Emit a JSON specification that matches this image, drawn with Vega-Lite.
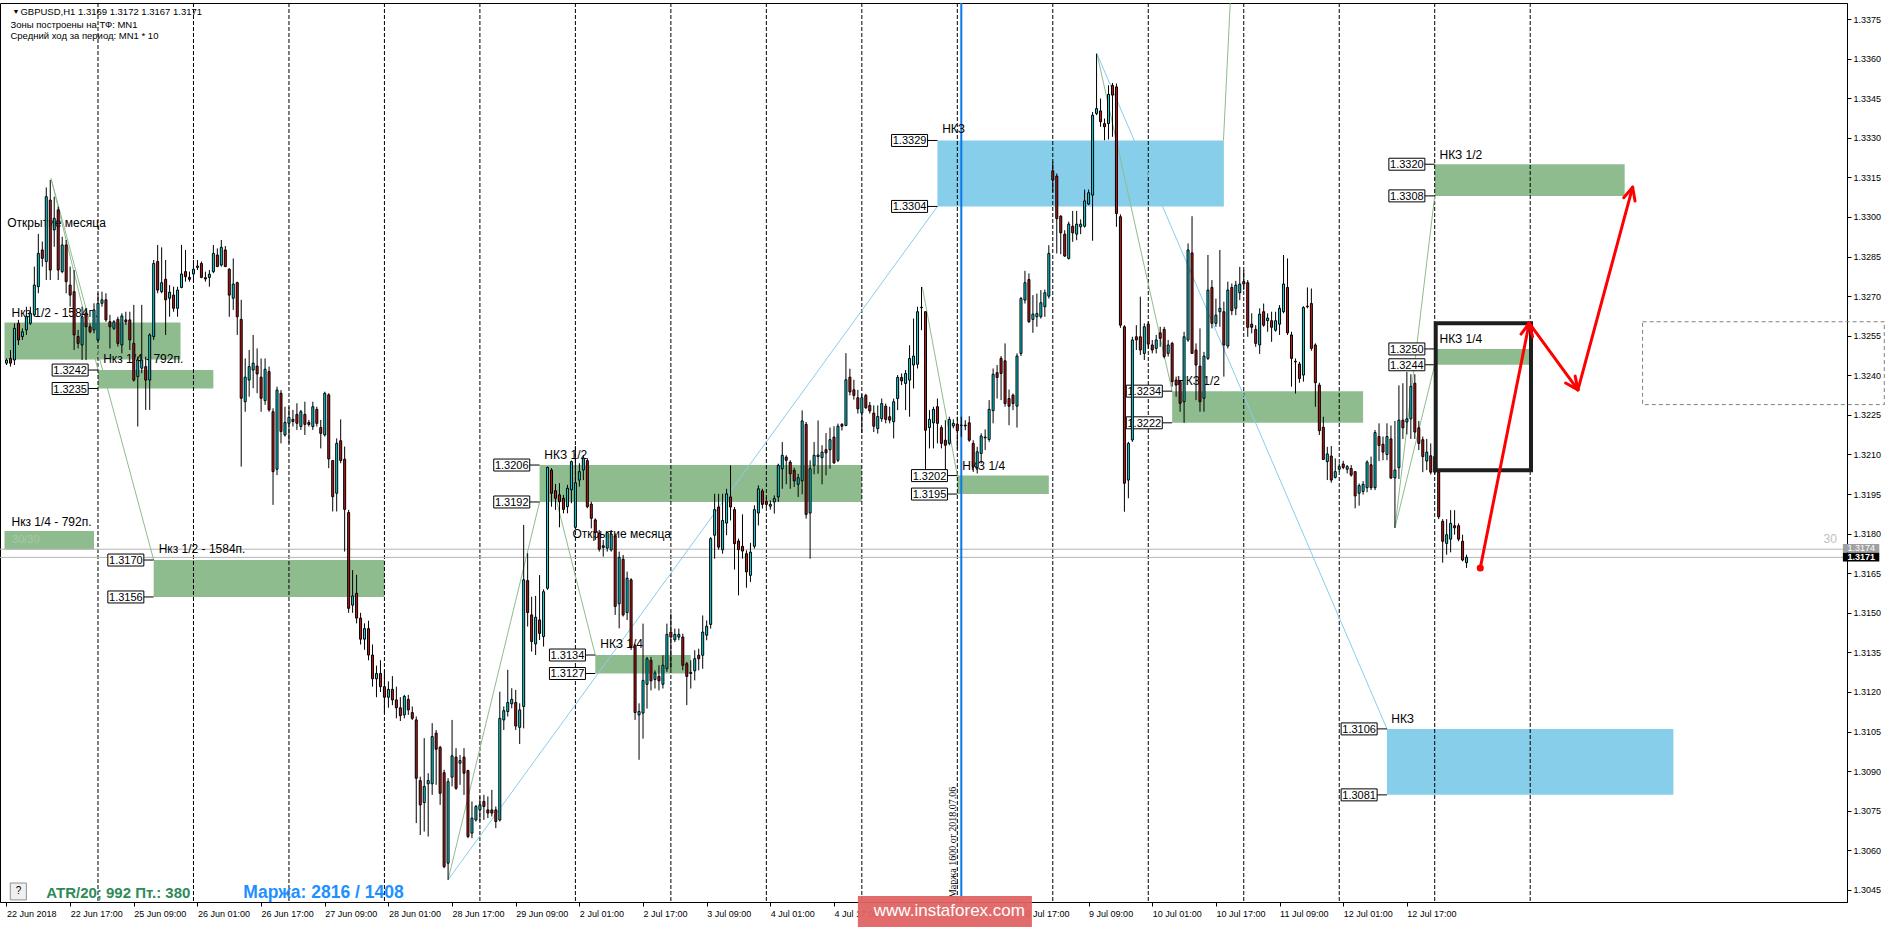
{
"$schema":"https://vega.github.io/schema/vega-lite/v6.json",
"width":1847,"height":899,
"autosize":{"type":"none"},
"padding":{"left":0,"top":3,"right":41,"bottom":26},
"background":"#FFFFFF",
"config":{"view":{"stroke":"#000000","strokeWidth":1},"text":{"font":"Liberation Sans"},"axis":{"labelFont":"Liberation Sans","title":null,"grid":false}},
"datasets":{
"candles":[
{"i":1,"o":1.32446,"h":1.32464,"l":1.32439,"c":1.32458},
{"i":2,"o":1.32464,"h":1.32496,"l":1.32433,"c":1.32446},
{"i":3,"o":1.32458,"h":1.32597,"l":1.32439,"c":1.32578},
{"i":4,"o":1.32597,"h":1.3261,"l":1.32515,"c":1.32534},
{"i":5,"o":1.32547,"h":1.32578,"l":1.32534,"c":1.32565},
{"i":6,"o":1.32572,"h":1.3266,"l":1.32553,"c":1.32622},
{"i":7,"o":1.32597,"h":1.3266,"l":1.32591,"c":1.32635},
{"i":8,"o":1.32629,"h":1.32812,"l":1.32622,"c":1.32742},
{"i":9,"o":1.32736,"h":1.32936,"l":1.32711,"c":1.32862},
{"i":10,"o":1.32875,"h":1.32907,"l":1.32812,"c":1.32843},
{"i":11,"o":1.32831,"h":1.33112,"l":1.32761,"c":1.33077},
{"i":12,"o":1.33064,"h":1.3314,"l":1.32761,"c":1.32799},
{"i":13,"o":1.32951,"h":1.33077,"l":1.32887,"c":1.32995},
{"i":14,"o":1.33027,"h":1.33039,"l":1.32761,"c":1.32799},
{"i":15,"o":1.32793,"h":1.32925,"l":1.32787,"c":1.32894},
{"i":16,"o":1.32894,"h":1.32913,"l":1.32711,"c":1.32755},
{"i":17,"o":1.32742,"h":1.32812,"l":1.3266,"c":1.32704},
{"i":18,"o":1.32717,"h":1.32799,"l":1.32496,"c":1.32553},
{"i":19,"o":1.32547,"h":1.32572,"l":1.32502,"c":1.32521},
{"i":20,"o":1.32515,"h":1.3266,"l":1.32458,"c":1.32622},
{"i":21,"o":1.32635,"h":1.32648,"l":1.32458,"c":1.32584},
{"i":22,"o":1.32584,"h":1.32597,"l":1.32559,"c":1.32565},
{"i":23,"o":1.32572,"h":1.32673,"l":1.32559,"c":1.32648},
{"i":24,"o":1.32534,"h":1.32711,"l":1.32528,"c":1.32673},
{"i":25,"o":1.32673,"h":1.32717,"l":1.3266,"c":1.32686},
{"i":26,"o":1.32686,"h":1.32711,"l":1.32603,"c":1.3261},
{"i":27,"o":1.32603,"h":1.32629,"l":1.32502,"c":1.32584},
{"i":28,"o":1.32578,"h":1.32609,"l":1.32572,"c":1.32603},
{"i":29,"o":1.32612,"h":1.32622,"l":1.32509,"c":1.32521},
{"i":30,"o":1.32515,"h":1.32635,"l":1.32483,"c":1.32625},
{"i":31,"o":1.3261,"h":1.32641,"l":1.32591,"c":1.32603},
{"i":32,"o":1.3261,"h":1.32641,"l":1.32496,"c":1.32534},
{"i":33,"o":1.32521,"h":1.32667,"l":1.32376,"c":1.32382},
{"i":34,"o":1.32395,"h":1.32471,"l":1.32206,"c":1.32458},
{"i":35,"o":1.32427,"h":1.32667,"l":1.32408,"c":1.32458},
{"i":36,"o":1.32433,"h":1.32471,"l":1.32269,"c":1.32382},
{"i":37,"o":1.32382,"h":1.32559,"l":1.32269,"c":1.32553},
{"i":38,"o":1.32547,"h":1.32837,"l":1.32534,"c":1.32824},
{"i":39,"o":1.32831,"h":1.32894,"l":1.32711,"c":1.32723},
{"i":40,"o":1.32717,"h":1.32885,"l":1.32711,"c":1.32751},
{"i":41,"o":1.32764,"h":1.32837,"l":1.32553,"c":1.32686},
{"i":42,"o":1.32692,"h":1.32742,"l":1.32622,"c":1.32715},
{"i":43,"o":1.32704,"h":1.32736,"l":1.32641,"c":1.32654},
{"i":44,"o":1.32654,"h":1.32736,"l":1.32622,"c":1.32723},
{"i":45,"o":1.32733,"h":1.32894,"l":1.3273,"c":1.32784},
{"i":46,"o":1.32793,"h":1.32875,"l":1.32755,"c":1.32774},
{"i":47,"o":1.32771,"h":1.32793,"l":1.32755,"c":1.32764},
{"i":48,"o":1.32784,"h":1.32837,"l":1.32755,"c":1.32802},
{"i":49,"o":1.32809,"h":1.32837,"l":1.32799,"c":1.32814},
{"i":50,"o":1.32824,"h":1.32831,"l":1.32768,"c":1.32771},
{"i":51,"o":1.3277,"h":1.32793,"l":1.32755,"c":1.32765},
{"i":52,"o":1.32771,"h":1.32799,"l":1.32736,"c":1.32783},
{"i":53,"o":1.32793,"h":1.32894,"l":1.32787,"c":1.32862},
{"i":54,"o":1.32856,"h":1.32881,"l":1.32812,"c":1.32812},
{"i":55,"o":1.32818,"h":1.32913,"l":1.32812,"c":1.32885},
{"i":56,"o":1.32875,"h":1.3289,"l":1.32812,"c":1.32812},
{"i":57,"o":1.32802,"h":1.32806,"l":1.32622,"c":1.32704},
{"i":58,"o":1.32692,"h":1.32843,"l":1.32648,"c":1.32746},
{"i":59,"o":1.32751,"h":1.32755,"l":1.32553,"c":1.32622},
{"i":60,"o":1.32612,"h":1.32686,"l":1.32054,"c":1.32313},
{"i":61,"o":1.323,"h":1.32464,"l":1.32262,"c":1.32393},
{"i":62,"o":1.32382,"h":1.32496,"l":1.32319,"c":1.32433},
{"i":63,"o":1.3242,"h":1.32553,"l":1.32351,"c":1.32446},
{"i":64,"o":1.32435,"h":1.32502,"l":1.32332,"c":1.32405},
{"i":65,"o":1.32393,"h":1.32464,"l":1.32262,"c":1.32313},
{"i":66,"o":1.32304,"h":1.32464,"l":1.32288,"c":1.32423},
{"i":67,"o":1.32414,"h":1.32433,"l":1.32262,"c":1.32269},
{"i":68,"o":1.32262,"h":1.32275,"l":1.31909,"c":1.32035},
{"i":69,"o":1.32044,"h":1.32357,"l":1.32022,"c":1.32344},
{"i":70,"o":1.32332,"h":1.32344,"l":1.32142,"c":1.32187},
{"i":71,"o":1.32174,"h":1.32281,"l":1.32168,"c":1.32221},
{"i":72,"o":1.32218,"h":1.32281,"l":1.32142,"c":1.32241},
{"i":73,"o":1.32233,"h":1.32269,"l":1.32206,"c":1.32225},
{"i":74,"o":1.32252,"h":1.32294,"l":1.32193,"c":1.32218},
{"i":75,"o":1.32206,"h":1.32269,"l":1.32193,"c":1.32262},
{"i":76,"o":1.32252,"h":1.323,"l":1.32174,"c":1.32214},
{"i":77,"o":1.32221,"h":1.32231,"l":1.32206,"c":1.32214},
{"i":78,"o":1.32206,"h":1.323,"l":1.32193,"c":1.32281},
{"i":79,"o":1.32271,"h":1.32281,"l":1.32206,"c":1.32218},
{"i":80,"o":1.32202,"h":1.32231,"l":1.32123,"c":1.3218},
{"i":81,"o":1.32174,"h":1.32338,"l":1.32168,"c":1.32332},
{"i":82,"o":1.32326,"h":1.32332,"l":1.32048,"c":1.32083},
{"i":83,"o":1.32077,"h":1.32079,"l":1.31884,"c":1.3194},
{"i":84,"o":1.31953,"h":1.32161,"l":1.31884,"c":1.32142},
{"i":85,"o":1.32152,"h":1.32233,"l":1.32067,"c":1.32077},
{"i":86,"o":1.32082,"h":1.3213,"l":1.31732,"c":1.31892},
{"i":87,"o":1.3188,"h":1.3189,"l":1.315,"c":1.31517},
{"i":88,"o":1.31529,"h":1.31662,"l":1.315,"c":1.31564},
{"i":89,"o":1.31574,"h":1.31644,"l":1.3146,"c":1.3148},
{"i":90,"o":1.3148,"h":1.315,"l":1.3138,"c":1.314},
{"i":91,"o":1.314,"h":1.3146,"l":1.3136,"c":1.3144},
{"i":92,"o":1.3144,"h":1.3147,"l":1.3132,"c":1.3134},
{"i":93,"o":1.3134,"h":1.3138,"l":1.3122,"c":1.3125},
{"i":94,"o":1.3125,"h":1.313,"l":1.3118,"c":1.3127},
{"i":95,"o":1.3127,"h":1.3132,"l":1.312,"c":1.3122},
{"i":96,"o":1.3122,"h":1.3128,"l":1.3112,"c":1.3118},
{"i":97,"o":1.3118,"h":1.3124,"l":1.3114,"c":1.3121},
{"i":98,"o":1.3121,"h":1.3126,"l":1.3115,"c":1.3117},
{"i":99,"o":1.3117,"h":1.3122,"l":1.311,"c":1.3114},
{"i":100,"o":1.3114,"h":1.3118,"l":1.3109,"c":1.3111},
{"i":101,"o":1.31113,"h":1.31189,"l":1.311,"c":1.31183},
{"i":102,"o":1.31172,"h":1.31189,"l":1.31113,"c":1.31132},
{"i":103,"o":1.31122,"h":1.31145,"l":1.31094,"c":1.311},
{"i":104,"o":1.31094,"h":1.31107,"l":1.30703,"c":1.30873},
{"i":105,"o":1.30864,"h":1.30879,"l":1.30658,"c":1.30772},
{"i":106,"o":1.30781,"h":1.31025,"l":1.30671,"c":1.30842},
{"i":107,"o":1.30852,"h":1.30892,"l":1.30652,"c":1.30864},
{"i":108,"o":1.30852,"h":1.31082,"l":1.3081,"c":1.31031},
{"i":109,"o":1.31044,"h":1.31056,"l":1.30848,"c":1.30983},
{"i":110,"o":1.3099,"h":1.30996,"l":1.30772,"c":1.30816},
{"i":111,"o":1.30894,"h":1.30905,"l":1.30532,"c":1.30538},
{"i":112,"o":1.30551,"h":1.30873,"l":1.30488,"c":1.3086},
{"i":113,"o":1.30877,"h":1.31094,"l":1.30842,"c":1.30958},
{"i":114,"o":1.30953,"h":1.30987,"l":1.30829,"c":1.30835},
{"i":115,"o":1.3093,"h":1.30961,"l":1.30848,"c":1.3094},
{"i":116,"o":1.30953,"h":1.30987,"l":1.3081,"c":1.30892},
{"i":117,"o":1.30902,"h":1.30905,"l":1.30646,"c":1.30652},
{"i":118,"o":1.30665,"h":1.30785,"l":1.30646,"c":1.30722},
{"i":119,"o":1.30715,"h":1.30772,"l":1.30709,"c":1.30766},
{"i":120,"o":1.30753,"h":1.30804,"l":1.30709,"c":1.30772},
{"i":121,"o":1.30785,"h":1.3081,"l":1.30715,"c":1.30766},
{"i":122,"o":1.30753,"h":1.30804,"l":1.30722,"c":1.30741},
{"i":123,"o":1.30753,"h":1.30829,"l":1.30728,"c":1.30741},
{"i":124,"o":1.30753,"h":1.30766,"l":1.30684,"c":1.30709},
{"i":125,"o":1.30715,"h":1.31201,"l":1.30709,"c":1.311},
{"i":126,"o":1.31094,"h":1.31145,"l":1.31056,"c":1.31129},
{"i":127,"o":1.31126,"h":1.31284,"l":1.31107,"c":1.3116},
{"i":128,"o":1.31155,"h":1.31214,"l":1.31138,"c":1.31172},
{"i":129,"o":1.3116,"h":1.31208,"l":1.31056,"c":1.31071},
{"i":130,"o":1.31066,"h":1.31157,"l":1.31003,"c":1.31132},
{"i":131,"o":1.31145,"h":1.31833,"l":1.31062,"c":1.31625},
{"i":132,"o":1.31622,"h":1.31726,"l":1.31448,"c":1.31501},
{"i":133,"o":1.31492,"h":1.31561,"l":1.31353,"c":1.31391},
{"i":134,"o":1.31382,"h":1.31564,"l":1.3134,"c":1.31483},
{"i":135,"o":1.31473,"h":1.31643,"l":1.31397,"c":1.31422},
{"i":136,"o":1.3141,"h":1.31589,"l":1.31372,"c":1.3158},
{"i":137,"o":1.31593,"h":1.32054,"l":1.31587,"c":1.32051},
{"i":138,"o":1.32041,"h":1.32048,"l":1.31902,"c":1.31953},
{"i":139,"o":1.31963,"h":1.31988,"l":1.3189,"c":1.31934},
{"i":140,"o":1.31947,"h":1.31991,"l":1.31824,"c":1.31921},
{"i":141,"o":1.31934,"h":1.31947,"l":1.31877,"c":1.31892},
{"i":142,"o":1.31902,"h":1.31985,"l":1.31877,"c":1.31972},
{"i":143,"o":1.31966,"h":1.32077,"l":1.31915,"c":1.32073},
{"i":144,"o":1.31824,"h":1.32132,"l":1.3182,"c":1.31993},
{"i":145,"o":1.32003,"h":1.32067,"l":1.31978,"c":1.32035},
{"i":146,"o":1.32041,"h":1.32098,"l":1.32003,"c":1.32086},
{"i":147,"o":1.32077,"h":1.32086,"l":1.31896,"c":1.31902},
{"i":148,"o":1.31912,"h":1.31921,"l":1.3182,"c":1.31858},
{"i":149,"o":1.31852,"h":1.31858,"l":1.31776,"c":1.31804},
{"i":150,"o":1.31801,"h":1.31814,"l":1.31732,"c":1.31741},
{"i":151,"o":1.31754,"h":1.31776,"l":1.31713,"c":1.31748},
{"i":152,"o":1.31745,"h":1.31808,"l":1.31732,"c":1.31804},
{"i":153,"o":1.31738,"h":1.31814,"l":1.31732,"c":1.31798},
{"i":154,"o":1.31791,"h":1.31801,"l":1.31492,"c":1.31524},
{"i":155,"o":1.31534,"h":1.31732,"l":1.31441,"c":1.3171},
{"i":156,"o":1.31703,"h":1.31719,"l":1.31486,"c":1.31492},
{"i":157,"o":1.31501,"h":1.31656,"l":1.31473,"c":1.31631},
{"i":158,"o":1.31625,"h":1.31631,"l":1.31359,"c":1.31372},
{"i":159,"o":1.31375,"h":1.31382,"l":1.31094,"c":1.31122},
{"i":160,"o":1.31113,"h":1.31157,"l":1.30943,"c":1.31126},
{"i":161,"o":1.3112,"h":1.31459,"l":1.31023,"c":1.31244},
{"i":162,"o":1.31229,"h":1.31333,"l":1.31137,"c":1.31326},
{"i":163,"o":1.3132,"h":1.31333,"l":1.31206,"c":1.31242},
{"i":164,"o":1.31247,"h":1.31282,"l":1.31213,"c":1.31272},
{"i":165,"o":1.31259,"h":1.31301,"l":1.31206,"c":1.31242},
{"i":166,"o":1.31229,"h":1.31339,"l":1.31213,"c":1.31301},
{"i":167,"o":1.31288,"h":1.31459,"l":1.31276,"c":1.31418},
{"i":168,"o":1.31427,"h":1.31497,"l":1.31288,"c":1.31408},
{"i":169,"o":1.31398,"h":1.3144,"l":1.31389,"c":1.31418},
{"i":170,"o":1.31408,"h":1.3144,"l":1.31396,"c":1.31418},
{"i":171,"o":1.31408,"h":1.31421,"l":1.31282,"c":1.31301},
{"i":172,"o":1.31307,"h":1.31314,"l":1.3115,"c":1.31259},
{"i":173,"o":1.3127,"h":1.3132,"l":1.31213,"c":1.31274},
{"i":174,"o":1.3128,"h":1.31358,"l":1.31244,"c":1.31326},
{"i":175,"o":1.31339,"h":1.31364,"l":1.31282,"c":1.31326},
{"i":176,"o":1.31339,"h":1.3149,"l":1.31288,"c":1.31427},
{"i":177,"o":1.31415,"h":1.31471,"l":1.31396,"c":1.31449},
{"i":178,"o":1.31456,"h":1.31787,"l":1.3144,"c":1.31781},
{"i":179,"o":1.31794,"h":1.31951,"l":1.31705,"c":1.31891},
{"i":180,"o":1.31901,"h":1.31951,"l":1.31739,"c":1.31749},
{"i":181,"o":1.31739,"h":1.31951,"l":1.31724,"c":1.3185},
{"i":182,"o":1.3184,"h":1.3197,"l":1.31794,"c":1.31951},
{"i":183,"o":1.31939,"h":1.32059,"l":1.3185,"c":1.31901},
{"i":184,"o":1.31891,"h":1.31901,"l":1.31664,"c":1.31762},
{"i":185,"o":1.31772,"h":1.31781,"l":1.31566,"c":1.31739},
{"i":186,"o":1.31752,"h":1.31873,"l":1.31705,"c":1.31734},
{"i":187,"o":1.31724,"h":1.31737,"l":1.31595,"c":1.31655},
{"i":188,"o":1.31642,"h":1.31765,"l":1.31617,"c":1.3173},
{"i":189,"o":1.31752,"h":1.31907,"l":1.31743,"c":1.31891},
{"i":190,"o":1.31878,"h":1.31983,"l":1.31831,"c":1.3197},
{"i":191,"o":1.31962,"h":1.3197,"l":1.31895,"c":1.31911},
{"i":192,"o":1.31922,"h":1.31939,"l":1.31901,"c":1.31911},
{"i":193,"o":1.31904,"h":1.31926,"l":1.31891,"c":1.31911},
{"i":194,"o":1.3192,"h":1.31945,"l":1.31876,"c":1.31933},
{"i":195,"o":1.31939,"h":1.32065,"l":1.3192,"c":1.32059},
{"i":196,"o":1.32046,"h":1.32147,"l":1.3197,"c":1.32097},
{"i":197,"o":1.3209,"h":1.32097,"l":1.31987,"c":1.32078},
{"i":198,"o":1.32071,"h":1.32078,"l":1.3197,"c":1.32027},
{"i":199,"o":1.3204,"h":1.3205,"l":1.31977,"c":1.32},
{"i":200,"o":1.31987,"h":1.32027,"l":1.31939,"c":1.32012},
{"i":201,"o":1.32,"h":1.32267,"l":1.31949,"c":1.32227},
{"i":202,"o":1.32214,"h":1.32223,"l":1.31857,"c":1.31873},
{"i":203,"o":1.31878,"h":1.32078,"l":1.31705,"c":1.32046},
{"i":204,"o":1.32059,"h":1.32147,"l":1.32025,"c":1.32097},
{"i":205,"o":1.32092,"h":1.32229,"l":1.32027,"c":1.32098},
{"i":206,"o":1.32088,"h":1.32135,"l":1.31987,"c":1.32109},
{"i":207,"o":1.32118,"h":1.32181,"l":1.32021,"c":1.32106},
{"i":208,"o":1.32118,"h":1.32202,"l":1.32046,"c":1.32156},
{"i":209,"o":1.32166,"h":1.32207,"l":1.32065,"c":1.32068},
{"i":210,"o":1.32078,"h":1.32217,"l":1.32071,"c":1.32207},
{"i":211,"o":1.32214,"h":1.32219,"l":1.32191,"c":1.32207},
{"i":212,"o":1.3221,"h":1.32484,"l":1.32207,"c":1.32383},
{"i":213,"o":1.32393,"h":1.32425,"l":1.32324,"c":1.32337},
{"i":214,"o":1.32345,"h":1.32383,"l":1.32308,"c":1.32324},
{"i":215,"o":1.32315,"h":1.32345,"l":1.32255,"c":1.32273},
{"i":216,"o":1.32257,"h":1.3233,"l":1.32181,"c":1.32315},
{"i":217,"o":1.32324,"h":1.3233,"l":1.32273,"c":1.32277},
{"i":218,"o":1.32286,"h":1.32299,"l":1.32255,"c":1.32265},
{"i":219,"o":1.32257,"h":1.32286,"l":1.32185,"c":1.32207},
{"i":220,"o":1.32198,"h":1.32286,"l":1.32179,"c":1.32244},
{"i":221,"o":1.32236,"h":1.32312,"l":1.32224,"c":1.32293},
{"i":222,"o":1.32283,"h":1.32293,"l":1.32218,"c":1.32233},
{"i":223,"o":1.32243,"h":1.32281,"l":1.32218,"c":1.3223},
{"i":224,"o":1.32224,"h":1.32312,"l":1.32161,"c":1.323},
{"i":225,"o":1.32312,"h":1.32401,"l":1.32268,"c":1.32392},
{"i":226,"o":1.32392,"h":1.32407,"l":1.32363,"c":1.32379},
{"i":227,"o":1.32369,"h":1.3242,"l":1.32268,"c":1.32407},
{"i":228,"o":1.32382,"h":1.32514,"l":1.32243,"c":1.32464},
{"i":229,"o":1.32439,"h":1.32615,"l":1.3235,"c":1.32473},
{"i":230,"o":1.32442,"h":1.3266,"l":1.32426,"c":1.32641},
{"i":231,"o":1.32656,"h":1.32735,"l":1.32571,"c":1.32658},
{"i":232,"o":1.32641,"h":1.32641,"l":1.32041,"c":1.32192},
{"i":233,"o":1.32202,"h":1.32268,"l":1.32123,"c":1.32233},
{"i":234,"o":1.3222,"h":1.32281,"l":1.32123,"c":1.32271},
{"i":235,"o":1.32281,"h":1.32312,"l":1.32142,"c":1.32218},
{"i":236,"o":1.32202,"h":1.32211,"l":1.32123,"c":1.32142},
{"i":237,"o":1.32154,"h":1.3223,"l":1.32041,"c":1.32135},
{"i":238,"o":1.32142,"h":1.32243,"l":1.32135,"c":1.32233},
{"i":239,"o":1.32208,"h":1.32233,"l":1.32199,"c":1.32218},
{"i":240,"o":1.32215,"h":1.32243,"l":1.32119,"c":1.3219},
{"i":241,"o":1.32211,"h":1.32243,"l":1.32167,"c":1.3221},
{"i":242,"o":1.32211,"h":1.3223,"l":1.32192,"c":1.32208},
{"i":243,"o":1.3222,"h":1.32245,"l":1.32148,"c":1.32154},
{"i":244,"o":1.32142,"h":1.32154,"l":1.32034,"c":1.32053},
{"i":245,"o":1.32051,"h":1.32129,"l":1.32028,"c":1.3211},
{"i":246,"o":1.32104,"h":1.3218,"l":1.32066,"c":1.3217},
{"i":247,"o":1.32163,"h":1.32195,"l":1.32117,"c":1.32166},
{"i":248,"o":1.32157,"h":1.32306,"l":1.32148,"c":1.32271},
{"i":249,"o":1.32266,"h":1.32426,"l":1.32218,"c":1.32404},
{"i":250,"o":1.3241,"h":1.32439,"l":1.32312,"c":1.32392},
{"i":251,"o":1.32464,"h":1.32473,"l":1.32306,"c":1.32407},
{"i":252,"o":1.32455,"h":1.32521,"l":1.32281,"c":1.32293},
{"i":253,"o":1.32312,"h":1.32346,"l":1.32211,"c":1.32283},
{"i":254,"o":1.32325,"h":1.32331,"l":1.32268,"c":1.32293},
{"i":255,"o":1.32283,"h":1.32483,"l":1.32202,"c":1.32473},
{"i":256,"o":1.32483,"h":1.32697,"l":1.32473,"c":1.32691},
{"i":257,"o":1.32685,"h":1.32796,"l":1.32672,"c":1.32751},
{"i":258,"o":1.32763,"h":1.32786,"l":1.32599,"c":1.32603},
{"i":259,"o":1.32612,"h":1.32704,"l":1.32561,"c":1.32632},
{"i":260,"o":1.32622,"h":1.3271,"l":1.32584,"c":1.32634},
{"i":261,"o":1.32622,"h":1.32723,"l":1.32615,"c":1.32675},
{"i":262,"o":1.3266,"h":1.32725,"l":1.32622,"c":1.32713},
{"i":263,"o":1.327,"h":1.32893,"l":1.32691,"c":1.32862},
{"i":264,"o":1.33175,"h":1.33209,"l":1.33095,"c":1.3314},
{"i":265,"o":1.33155,"h":1.33165,"l":1.32862,"c":1.32994},
{"i":266,"o":1.33003,"h":1.33007,"l":1.32859,"c":1.3294},
{"i":267,"o":1.32935,"h":1.3295,"l":1.32849,"c":1.32852},
{"i":268,"o":1.32843,"h":1.32982,"l":1.32839,"c":1.32973},
{"i":269,"o":1.32965,"h":1.33023,"l":1.32906,"c":1.3294},
{"i":270,"o":1.32935,"h":1.33023,"l":1.32912,"c":1.32973},
{"i":271,"o":1.32963,"h":1.32991,"l":1.32935,"c":1.32973},
{"i":272,"o":1.32965,"h":1.33104,"l":1.3296,"c":1.33061},
{"i":273,"o":1.33049,"h":1.33104,"l":1.33045,"c":1.33092},
{"i":274,"o":1.33083,"h":1.33398,"l":1.3291,"c":1.33386},
{"i":275,"o":1.33392,"h":1.33619,"l":1.33386,"c":1.33411},
{"i":276,"o":1.33402,"h":1.33449,"l":1.33342,"c":1.33361},
{"i":277,"o":1.33354,"h":1.33373,"l":1.33291,"c":1.33342},
{"i":278,"o":1.33354,"h":1.33499,"l":1.33294,"c":1.33465},
{"i":279,"o":1.33499,"h":1.33508,"l":1.33304,"c":1.33462},
{"i":280,"o":1.33493,"h":1.33506,"l":1.32963,"c":1.33013},
{"i":281,"o":1.33001,"h":1.3301,"l":1.3258,"c":1.3259},
{"i":282,"o":1.32584,"h":1.3259,"l":1.31883,"c":1.31991},
{"i":283,"o":1.32003,"h":1.32148,"l":1.31934,"c":1.32142},
{"i":284,"o":1.32155,"h":1.32546,"l":1.32148,"c":1.32534},
{"i":285,"o":1.32546,"h":1.3259,"l":1.32496,"c":1.32534},
{"i":286,"o":1.32546,"h":1.32698,"l":1.32477,"c":1.32496},
{"i":287,"o":1.32483,"h":1.32597,"l":1.32458,"c":1.32584},
{"i":288,"o":1.32594,"h":1.32603,"l":1.32502,"c":1.32518},
{"i":289,"o":1.32515,"h":1.32534,"l":1.32483,"c":1.32496},
{"i":290,"o":1.32502,"h":1.32553,"l":1.32483,"c":1.32534},
{"i":291,"o":1.32561,"h":1.32584,"l":1.32508,"c":1.3254},
{"i":292,"o":1.32574,"h":1.32584,"l":1.32464,"c":1.32471},
{"i":293,"o":1.32483,"h":1.32534,"l":1.32471,"c":1.32515},
{"i":294,"o":1.32521,"h":1.32527,"l":1.32357,"c":1.32376},
{"i":295,"o":1.32382,"h":1.32395,"l":1.32319,"c":1.32363},
{"i":296,"o":1.32376,"h":1.32382,"l":1.32262,"c":1.32294},
{"i":297,"o":1.323,"h":1.32565,"l":1.3222,"c":1.32546},
{"i":298,"o":1.32534,"h":1.329,"l":1.32527,"c":1.32875},
{"i":299,"o":1.32864,"h":1.33003,"l":1.32481,"c":1.32483},
{"i":300,"o":1.32496,"h":1.32521,"l":1.32306,"c":1.32439},
{"i":301,"o":1.32435,"h":1.32578,"l":1.32262,"c":1.323},
{"i":302,"o":1.32313,"h":1.32489,"l":1.32262,"c":1.32473},
{"i":303,"o":1.32464,"h":1.32856,"l":1.32458,"c":1.32723},
{"i":304,"o":1.32733,"h":1.32761,"l":1.32578,"c":1.32597},
{"i":305,"o":1.32597,"h":1.32691,"l":1.32584,"c":1.32628},
{"i":306,"o":1.32641,"h":1.32875,"l":1.32584,"c":1.32654},
{"i":307,"o":1.32641,"h":1.32679,"l":1.32395,"c":1.32515},
{"i":308,"o":1.32511,"h":1.32755,"l":1.32502,"c":1.32723},
{"i":309,"o":1.32733,"h":1.32748,"l":1.32628,"c":1.32645},
{"i":310,"o":1.32654,"h":1.32758,"l":1.32628,"c":1.32742},
{"i":311,"o":1.32713,"h":1.32811,"l":1.32685,"c":1.32746},
{"i":312,"o":1.32755,"h":1.32799,"l":1.32723,"c":1.32746},
{"i":313,"o":1.32751,"h":1.32761,"l":1.32546,"c":1.32582},
{"i":314,"o":1.32594,"h":1.32635,"l":1.32559,"c":1.32582},
{"i":315,"o":1.32574,"h":1.3259,"l":1.32508,"c":1.32521},
{"i":316,"o":1.32515,"h":1.32654,"l":1.32481,"c":1.32632},
{"i":317,"o":1.32641,"h":1.32672,"l":1.32584,"c":1.3259},
{"i":318,"o":1.32607,"h":1.32635,"l":1.32565,"c":1.32617},
{"i":319,"o":1.32607,"h":1.32641,"l":1.32527,"c":1.32582},
{"i":320,"o":1.32571,"h":1.32641,"l":1.32565,"c":1.32607},
{"i":321,"o":1.32594,"h":1.32666,"l":1.32553,"c":1.32654},
{"i":322,"o":1.32641,"h":1.32856,"l":1.32635,"c":1.32746},
{"i":323,"o":1.32733,"h":1.32843,"l":1.32553,"c":1.32561},
{"i":324,"o":1.32553,"h":1.32565,"l":1.32357,"c":1.32464},
{"i":325,"o":1.32453,"h":1.32464,"l":1.32331,"c":1.32451},
{"i":326,"o":1.32443,"h":1.32451,"l":1.32372,"c":1.32388},
{"i":327,"o":1.32401,"h":1.32662,"l":1.32376,"c":1.32657},
{"i":328,"o":1.32662,"h":1.32733,"l":1.32654,"c":1.3266},
{"i":329,"o":1.32672,"h":1.32729,"l":1.32493,"c":1.32502},
{"i":330,"o":1.32515,"h":1.32521,"l":1.32281,"c":1.32372},
{"i":331,"o":1.32363,"h":1.32372,"l":1.32174,"c":1.3219},
{"i":332,"o":1.32203,"h":1.32243,"l":1.32079,"c":1.32081},
{"i":333,"o":1.32073,"h":1.32129,"l":1.32003,"c":1.32102},
{"i":334,"o":1.32094,"h":1.32132,"l":1.31993,"c":1.32003},
{"i":335,"o":1.32013,"h":1.32085,"l":1.32009,"c":1.32035},
{"i":336,"o":1.32044,"h":1.32066,"l":1.32035,"c":1.32054},
{"i":337,"o":1.32064,"h":1.32076,"l":1.32044,"c":1.32051},
{"i":338,"o":1.32044,"h":1.3206,"l":1.32028,"c":1.32054},
{"i":339,"o":1.32047,"h":1.3206,"l":1.32016,"c":1.32022},
{"i":340,"o":1.32035,"h":1.32035,"l":1.31896,"c":1.31943},
{"i":341,"o":1.31953,"h":1.3199,"l":1.31906,"c":1.31982},
{"i":342,"o":1.3196,"h":1.31999,"l":1.31948,"c":1.31987},
{"i":343,"o":1.31974,"h":1.32078,"l":1.31957,"c":1.32071},
{"i":344,"o":1.32061,"h":1.32092,"l":1.31965,"c":1.31974},
{"i":345,"o":1.31974,"h":1.32193,"l":1.31965,"c":1.32183},
{"i":346,"o":1.32168,"h":1.32218,"l":1.32075,"c":1.32134},
{"i":347,"o":1.32139,"h":1.32168,"l":1.32078,"c":1.32109},
{"i":348,"o":1.321,"h":1.32218,"l":1.32078,"c":1.32168},
{"i":349,"o":1.32159,"h":1.3221,"l":1.32007,"c":1.32011},
{"i":350,"o":1.32011,"h":1.32227,"l":1.31822,"c":1.32041},
{"i":351,"o":1.3205,"h":1.32362,"l":1.32007,"c":1.3223},
{"i":352,"o":1.3223,"h":1.3237,"l":1.32159,"c":1.32201},
{"i":353,"o":1.32223,"h":1.32413,"l":1.32176,"c":1.32235},
{"i":354,"o":1.32235,"h":1.32404,"l":1.32159,"c":1.32358},
{"i":355,"o":1.3237,"h":1.32404,"l":1.32159,"c":1.32185},
{"i":356,"o":1.32201,"h":1.32227,"l":1.32117,"c":1.32142},
{"i":357,"o":1.32156,"h":1.32168,"l":1.32033,"c":1.32092},
{"i":358,"o":1.32075,"h":1.32159,"l":1.32041,"c":1.32109},
{"i":359,"o":1.32095,"h":1.32142,"l":1.32024,"c":1.32033},
{"i":360,"o":1.32092,"h":1.32109,"l":1.32024,"c":1.32033},
{"i":361,"o":1.32033,"h":1.32041,"l":1.31855,"c":1.31864},
{"i":362,"o":1.31847,"h":1.31855,"l":1.3169,"c":1.31771},
{"i":363,"o":1.31763,"h":1.31855,"l":1.3172,"c":1.31796},
{"i":364,"o":1.31779,"h":1.31889,"l":1.31729,"c":1.31839},
{"i":365,"o":1.3183,"h":1.31889,"l":1.31796,"c":1.31822},
{"i":366,"o":1.3183,"h":1.31839,"l":1.31771,"c":1.31779},
{"i":367,"o":1.31771,"h":1.31796,"l":1.31695,"c":1.317},
{"i":368,"o":1.3169,"h":1.3172,"l":1.3167,"c":1.3171}
],
"greenZones":[
{"a":0.5,"b":44.75,"lo":1.3246,"hi":1.326},
{"a":24,"b":53,"lo":1.3235,"hi":1.3242},
{"a":0.5,"b":23,"lo":1.3174,"hi":1.3181},
{"a":38,"b":96,"lo":1.3156,"hi":1.317},
{"a":135,"b":216,"lo":1.3192,"hi":1.3206},
{"a":149,"b":173,"lo":1.3127,"hi":1.3134},
{"a":240,"b":263,"lo":1.3195,"hi":1.3202},
{"a":294,"b":342,"lo":1.3222,"hi":1.3234},
{"a":360,"b":383.75,"lo":1.3244,"hi":1.325},
{"a":360,"b":407.75,"lo":1.3308,"hi":1.332}
],
"blueZones":[
{"a":235,"b":307,"lo":1.3304,"hi":1.3329},
{"a":348,"b":420,"lo":1.3081,"hi":1.3106}
],
"labels":[
{"bx":17,"z":24,"p":1.3242,"t":"1.3242"},{"bx":17,"z":24,"p":1.3235,"t":"1.3235"},
{"bx":31,"z":38,"p":1.317,"t":"1.3170"},{"bx":31,"z":38,"p":1.3156,"t":"1.3156"},
{"bx":128,"z":135,"p":1.3206,"t":"1.3206"},{"bx":128,"z":135,"p":1.3192,"t":"1.3192"},
{"bx":142,"z":149,"p":1.3134,"t":"1.3134"},{"bx":142,"z":149,"p":1.3127,"t":"1.3127"},
{"bx":233,"z":240,"p":1.3202,"t":"1.3202"},{"bx":233,"z":240,"p":1.3195,"t":"1.3195"},
{"bx":287,"z":294,"p":1.3234,"t":"1.3234"},{"bx":287,"z":294,"p":1.3222,"t":"1.3222"},
{"bx":353,"z":360,"p":1.325,"t":"1.3250"},{"bx":353,"z":360,"p":1.3244,"t":"1.3244"},
{"bx":353,"z":360,"p":1.332,"t":"1.3320"},{"bx":353,"z":360,"p":1.3308,"t":"1.3308"},
{"bx":228,"z":235,"p":1.3329,"t":"1.3329"},{"bx":228,"z":235,"p":1.3304,"t":"1.3304"},
{"bx":341,"z":348,"p":1.3106,"t":"1.3106"},{"bx":341,"z":348,"p":1.3081,"t":"1.3081"}
],
"zoneTexts":[
{"i":2.25,"p":1.32636,"t":"Нкз 1/2 - 1584п."},
{"i":25.3,"p":1.32462,"t":"Нкз 1/4 - 792п."},
{"i":2.25,"p":1.31845,"t":"Нкз 1/4 - 792п."},
{"i":39.25,"p":1.3174,"t":"Нкз 1/2 - 1584п."},
{"i":136.2,"p":1.32098,"t":"НКЗ 1/2"},
{"i":150.25,"p":1.31382,"t":"НКЗ 1/4"},
{"i":241.25,"p":1.32056,"t":"НКЗ 1/4"},
{"i":295.25,"p":1.32378,"t":"НКЗ 1/2"},
{"i":361.2,"p":1.32536,"t":"НКЗ 1/4"},
{"i":361.2,"p":1.33235,"t":"НКЗ 1/2"},
{"i":236.2,"p":1.33333,"t":"НКЗ"},
{"i":349.1,"p":1.31099,"t":"НКЗ"},
{"i":1.2,"p":1.32978,"t":"Открытие месяца"},
{"i":143.25,"p":1.31799,"t":"Открытие месяца"}
],
"greenLines":[
{"x1":12.2,"y1":1.33146,"x2":38,"y2":1.317},
{"x1":12.2,"y1":1.33146,"x2":24,"y2":1.3242},
{"x1":112,"y1":1.30488,"x2":135,"y2":1.3192},
{"x1":138,"y1":1.32,"x2":149,"y2":1.3134},
{"x1":231.2,"y1":1.32735,"x2":240,"y2":1.3202},
{"x1":275.1,"y1":1.33619,"x2":294,"y2":1.3234},
{"x1":350,"y1":1.31822,"x2":360,"y2":1.3308},
{"x1":350,"y1":1.31822,"x2":360,"y2":1.3244},
{"x1":306.9,"y1":1.3329,"x2":308.6,"y2":1.3381}
],
"blueLines":[
{"x1":112,"y1":1.30488,"x2":235,"y2":1.3304},
{"x1":275.1,"y1":1.33619,"x2":348,"y2":1.3106}
],
"arrows":[
{"x1":371.45,"y1":1.3167,"x2":383.75,"y2":1.32598},
{"x1":383.75,"y1":1.32598,"x2":396,"y2":1.32345},
{"x1":396,"y1":1.32345,"x2":409.75,"y2":1.33113},
{"x1":383.75,"y1":1.32598,"x2":381.7,"y2":1.32556},
{"x1":383.75,"y1":1.32598,"x2":384.6,"y2":1.32547},
{"x1":396,"y1":1.32345,"x2":395.3,"y2":1.32397},
{"x1":396,"y1":1.32345,"x2":392.9,"y2":1.32371},
{"x1":409.75,"y1":1.33113,"x2":407.5,"y2":1.33073},
{"x1":409.75,"y1":1.33113,"x2":410.35,"y2":1.33061}
],
"separators":[{"d":24},{"d":48},{"d":72},{"d":96},{"d":120},{"d":144},{"d":168},{"d":192},{"d":216},{"d":240},{"d":264},{"d":288},{"d":312},{"d":336},{"d":360},{"d":384}],
"header":[
{"i":4.5,"p":1.33777,"t":"GBPUSD,H1  1.3169 1.3172 1.3167 1.3171"},
{"i":2,"p":1.33727,"t":"Зоны построены на ТФ: MN1"},
{"i":2,"p":1.33686,"t":"Средний ход за период: MN1 * 10"}
]
},
"layer":[
{"data":{"name":"greenZones"},"mark":{"type":"rect","fill":"#8FBC8F"},
 "encoding":{"x":{"field":"a","type":"quantitative","scale":{"domain":[0.625,462.375],"nice":false,"zero":false},
   "axis":{"orient":"bottom","values":[1,17,33,49,65,81,97,113,129,145,161,177,193,209,257,273,289,305,321,337,353],"labelExpr":"['22 Jun 2018','22 Jun 17:00','25 Jun 09:00','26 Jun 01:00','26 Jun 17:00','27 Jun 09:00','28 Jun 01:00','28 Jun 17:00','29 Jun 09:00','2 Jul 01:00','2 Jul 17:00','3 Jul 09:00','4 Jul 01:00','4 Jul 17:00','5 Jul 09:00','6 Jul 01:00','6 Jul 17:00','9 Jul 09:00','10 Jul 01:00','10 Jul 17:00','11 Jul 09:00','12 Jul 01:00','12 Jul 17:00'][round((datum.value-1)/16)]","labelAlign":"left","labelBaseline":"top","labelFontSize":9,"labelColor":"#000000","labelPadding":3,"tickSize":4,"tickColor":"#000000","domainColor":"#000000","grid":false,"title":null,"labelOverlap":false,"labelFlush":false,"labelBound":false}},
  "x2":{"field":"b"},
  "y":{"field":"lo","type":"quantitative","scale":{"domain":[1.30404,1.33811],"nice":false,"zero":false},
   "axis":{"orient":"right","values":[1.3045,1.306,1.3075,1.309,1.3105,1.312,1.3135,1.315,1.3165,1.318,1.3195,1.321,1.3225,1.324,1.3255,1.327,1.3285,1.33,1.3315,1.333,1.3345,1.336,1.3375],"format":".4f","labelFontSize":9,"labelColor":"#000000","labelPadding":2,"tickSize":4,"tickColor":"#000000","domainColor":"#000000","grid":false,"title":null,"labelOverlap":false,"labelFlush":false,"labelBound":false}},
  "y2":{"field":"hi"}}},
{"data":{"name":"blueZones"},"mark":{"type":"rect","fill":"#87CEEB"},
 "encoding":{"x":{"field":"a","type":"quantitative"},"x2":{"field":"b"},
 "y":{"field":"lo","type":"quantitative"},"y2":{"field":"hi"}}},
{"data":{"values":[{"a":412.25,"b":473,"lo":1.32289,"hi":1.32603}]},"mark":{"type":"rect","fill":null,"fillOpacity":0,"stroke":"#808080","strokeWidth":1,"strokeDash":[4,3]},
 "encoding":{"x":{"field":"a","type":"quantitative"},"x2":{"field":"b"},
 "y":{"field":"lo","type":"quantitative"},"y2":{"field":"hi"}}},
{"data":{"name":"separators"},"mark":{"type":"rule","stroke":"#000000","strokeWidth":1,"strokeDash":[4,2]},
 "encoding":{"x":{"field":"d","type":"quantitative"}}},
{"data":{"values":[{"p":1.31741},{"p":1.3171}]},"mark":{"type":"rule","stroke":"#B4B4B4","strokeWidth":1},
 "encoding":{"y":{"field":"p","type":"quantitative"}}},
{"data":{"values":[{"d":241}]},"mark":{"type":"rule","stroke":"#0A78E6","strokeWidth":2},
 "encoding":{"x":{"field":"d","type":"quantitative"}}},
{"data":{"name":"greenLines"},"mark":{"type":"rule","stroke":"#8FBC8F","strokeWidth":1},
 "encoding":{"x":{"field":"x1","type":"quantitative"},"x2":{"field":"x2"},"y":{"field":"y1","type":"quantitative"},"y2":{"field":"y2"}}},
{"data":{"name":"blueLines"},"mark":{"type":"rule","stroke":"#87CEEB","strokeWidth":1},
 "encoding":{"x":{"field":"x1","type":"quantitative"},"x2":{"field":"x2"},"y":{"field":"y1","type":"quantitative"},"y2":{"field":"y2"}}},
{"data":{"name":"labels"},"mark":{"type":"rule","stroke":"#000000","strokeWidth":1},
 "encoding":{"x":{"field":"bx","type":"quantitative"},"x2":{"field":"z"},"y":{"field":"p","type":"quantitative"}}},
{"data":{"name":"labels"},"mark":{"type":"point","shape":"M-1,-0.333L1,-0.333L1,0.333L-1,0.333Z","size":1296,"filled":true,"fill":"#FFFFFF","stroke":"#000000","strokeWidth":1,"opacity":1},
 "encoding":{"x":{"field":"bx","type":"quantitative"},"y":{"field":"p","type":"quantitative"}}},
{"data":{"name":"labels"},"mark":{"type":"text","fontSize":11,"align":"center","baseline":"middle","color":"#000000","dy":1},
 "encoding":{"x":{"field":"bx","type":"quantitative"},"y":{"field":"p","type":"quantitative"},"text":{"field":"t"}}},
{"data":{"name":"zoneTexts"},"mark":{"type":"text","fontSize":12,"align":"left","baseline":"middle","color":"#000000"},
 "encoding":{"x":{"field":"i","type":"quantitative"},"y":{"field":"p","type":"quantitative"},"text":{"field":"t"}}},
{"data":{"values":[{"i":2.4,"p":1.31776,"t":"30/30"}]},"mark":{"type":"text","fontSize":11,"align":"left","baseline":"middle","color":"#A8C8A8"},
 "encoding":{"x":{"field":"i","type":"quantitative"},"y":{"field":"p","type":"quantitative"},"text":{"field":"t"}}},
{"data":{"name":"candles"},"mark":{"type":"rule","stroke":"#000000","strokeWidth":1},
 "encoding":{"x":{"field":"i","type":"quantitative"},"y":{"field":"l","type":"quantitative"},"y2":{"field":"h"}}},
{"data":{"name":"candles"},"mark":{"type":"bar","size":2,"stroke":"#000000","strokeWidth":1,"orient":"vertical"},
 "encoding":{"x":{"field":"i","type":"quantitative"},"y":{"field":"o","type":"quantitative"},"y2":{"field":"c"},
 "fill":{"condition":{"test":"datum.c >= datum.o","value":"#00DDE6"},"value":"#C81414"}}},
{"data":{"values":[{"a":360.25,"b":384.2,"lo":1.3204,"hi":1.32597}]},"mark":{"type":"rect","fill":null,"fillOpacity":0,"stroke":"#1E1E1E","strokeWidth":4},
 "encoding":{"x":{"field":"a","type":"quantitative"},"x2":{"field":"b"},"y":{"field":"lo","type":"quantitative"},"y2":{"field":"hi"}}},
{"data":{"name":"arrows"},"mark":{"type":"rule","stroke":"#FF0000","strokeWidth":3,"strokeCap":"round"},
 "encoding":{"x":{"field":"x1","type":"quantitative"},"x2":{"field":"x2"},"y":{"field":"y1","type":"quantitative"},"y2":{"field":"y2"}}},
{"data":{"values":[{"i":371.45,"p":1.3167}]},"mark":{"type":"point","shape":"circle","filled":true,"fill":"#FF0000","size":50,"opacity":1},
 "encoding":{"x":{"field":"i","type":"quantitative"},"y":{"field":"p","type":"quantitative"}}},
{"data":{"name":"header"},"mark":{"type":"text","fontSize":9.5,"align":"left","baseline":"middle","color":"#000000"},
 "encoding":{"x":{"field":"i","type":"quantitative"},"y":{"field":"p","type":"quantitative"},"text":{"field":"t"}}},
{"data":{"values":[{"i":2.5,"p":1.33777,"t":"▼"}]},"mark":{"type":"text","fontSize":7,"align":"left","baseline":"middle","color":"#000000"},
 "encoding":{"x":{"field":"i","type":"quantitative"},"y":{"field":"p","type":"quantitative"},"text":{"field":"t"}}},
{"data":{"values":[{"i":239,"p":1.30419,"t":"Маржа 1600 от 2018.07.06"}]},"mark":{"type":"text","fontSize":10,"font":"Liberation Serif","angle":270,"align":"left","baseline":"middle","color":"#000000"},
 "encoding":{"x":{"field":"i","type":"quantitative"},"y":{"field":"p","type":"quantitative"},"text":{"field":"t"}}},
{"data":{"values":[{"a":1.95,"b":6,"lo":1.30412,"hi":1.30476}]},"mark":{"type":"rect","fill":"#F0F0F0","stroke":"#909090","strokeWidth":1},
 "encoding":{"x":{"field":"a","type":"quantitative"},"x2":{"field":"b"},"y":{"field":"lo","type":"quantitative"},"y2":{"field":"hi"}}},
{"data":{"values":[{"i":4,"p":1.30444,"t":"?"}]},"mark":{"type":"text","fontSize":10,"align":"center","baseline":"middle","color":"#000000"},
 "encoding":{"x":{"field":"i","type":"quantitative"},"y":{"field":"p","type":"quantitative"},"text":{"field":"t"}}},
{"data":{"values":[{"i":11,"p":1.30438,"t":"ATR/20; 992  Пт.: 380"}]},"mark":{"type":"text","fontSize":15,"fontWeight":"bold","align":"left","baseline":"middle","color":"#2E8B57"},
 "encoding":{"x":{"field":"i","type":"quantitative"},"y":{"field":"p","type":"quantitative"},"text":{"field":"t"}}},
{"data":{"values":[{"i":60.5,"p":1.30438,"t":"Маржа: 2816 / 1408"}]},"mark":{"type":"text","fontSize":17.5,"fontWeight":"bold","align":"left","baseline":"middle","color":"#1E90FF"},
 "encoding":{"x":{"field":"i","type":"quantitative"},"y":{"field":"p","type":"quantitative"},"text":{"field":"t"}}},
{"data":{"values":[{"a":215,"b":258.75,"lo":1.30309,"hi":1.30427}]},"mark":{"type":"rect","fill":"#E06464","opacity":0.95},
 "encoding":{"x":{"field":"a","type":"quantitative"},"x2":{"field":"b"},"y":{"field":"lo","type":"quantitative"},"y2":{"field":"hi"}}},
{"data":{"values":[{"i":238,"p":1.30368,"t":"www.instaforex.com"}]},"mark":{"type":"text","fontSize":17,"align":"center","baseline":"middle","color":"#FFFFFF"},
 "encoding":{"x":{"field":"i","type":"quantitative"},"y":{"field":"p","type":"quantitative"},"text":{"field":"t"}}},
{"data":{"values":[{"a":462.6,"b":471.75,"lo":1.31728,"hi":1.31761}]},"mark":{"type":"rect","fill":"#A0A0A0"},
 "encoding":{"x":{"field":"a","type":"quantitative"},"x2":{"field":"b"},"y":{"field":"lo","type":"quantitative"},"y2":{"field":"hi"}}},
{"data":{"values":[{"i":467.2,"p":1.31747,"t":"1.3174"}]},"mark":{"type":"text","fontSize":9,"align":"center","baseline":"middle","color":"#FFFFFF"},
 "encoding":{"x":{"field":"i","type":"quantitative"},"y":{"field":"p","type":"quantitative"},"text":{"field":"t"}}},
{"data":{"values":[{"a":462.6,"b":471.75,"lo":1.31694,"hi":1.31728}]},"mark":{"type":"rect","fill":"#000000"},
 "encoding":{"x":{"field":"a","type":"quantitative"},"x2":{"field":"b"},"y":{"field":"lo","type":"quantitative"},"y2":{"field":"hi"}}},
{"data":{"values":[{"i":467.2,"p":1.31711,"t":"1.3171"}]},"mark":{"type":"text","fontSize":9,"fontWeight":"bold","align":"center","baseline":"middle","color":"#FFFFFF"},
 "encoding":{"x":{"field":"i","type":"quantitative"},"y":{"field":"p","type":"quantitative"},"text":{"field":"t"}}},
{"data":{"values":[{"i":459.4,"p":1.3178,"t":"30"}]},"mark":{"type":"text","fontSize":12,"align":"center","baseline":"middle","color":"#C0C0C0"},
 "encoding":{"x":{"field":"i","type":"quantitative"},"y":{"field":"p","type":"quantitative"},"text":{"field":"t"}}}
]
}
